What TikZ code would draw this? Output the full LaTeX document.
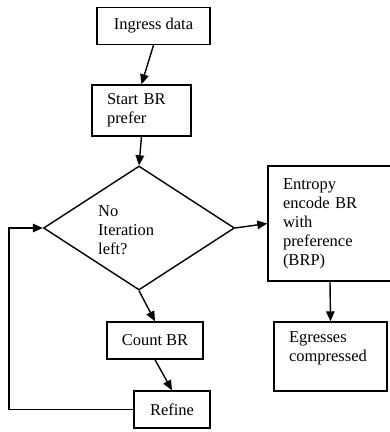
\documentclass[tikz,border=0pt]{standalone}
\usepackage{fontspec}
\setmainfont{Liberation Serif}
\usetikzlibrary{shapes.geometric,arrows.meta}
\tikzset{
  box/.style={draw, line width=1.4pt, rectangle, inner sep=0pt, font=\fontsize{16.5}{19}\selectfont},
  ltext/.style={align=left, inner sep=0pt, font=\fontsize{16.5}{19}\selectfont},
  arr/.style={line width=1.4pt, -{Triangle[length=10pt,width=8.5pt]}},
}
\begin{document}
\begin{tikzpicture}[x=1pt,y=-1pt]
\useasboundingbox (0,0) rectangle (390,432);
\node[box, minimum width=113, minimum height=37] (ingress) at (153.5,26) {Ingress data};
\node[box, minimum width=99, minimum height=51, text width=69, align=left] (start) at (141.5,110.5) {Start BR\\prefer};
\node[draw, line width=1.4pt, diamond, minimum width=191, minimum height=124, inner sep=0pt] (dec) at (139,228) {};
\node[ltext, anchor=west] (dectext) at (98,230) {No\\Iteration\\left?};
\node[box, minimum width=124, minimum height=115, text width=94, align=left] (entropy) at (330,223.5) {Entropy\\encode BR\\with\\preference\\(BRP)};
\node[box, minimum width=113, minimum height=69, text width=83, align=left] (egress) at (330.5,356.5) {Egresses\\compressed\\\mbox{}};
\node[box, minimum width=96, minimum height=37] (count) at (155,340.5) {Count BR};
\node[box, minimum width=76, minimum height=37] (refine) at (172,409.5) {Refine};
\coordinate (loop) at (9,409.5);
\draw[arr] (ingress.south) -- (start.north);
\draw[arr] (start.south) -- (dec.north);
\draw[arr] (dec.east) -- (entropy.west);
\draw[arr] (entropy.south) -- (egress.north);
\draw[arr] (dec.south) -- (count.north);
\draw[arr] (count.south) -- (refine.north);
\draw[arr] (refine.west) -- (loop) |- (dec.west);
\end{tikzpicture}
\end{document}
